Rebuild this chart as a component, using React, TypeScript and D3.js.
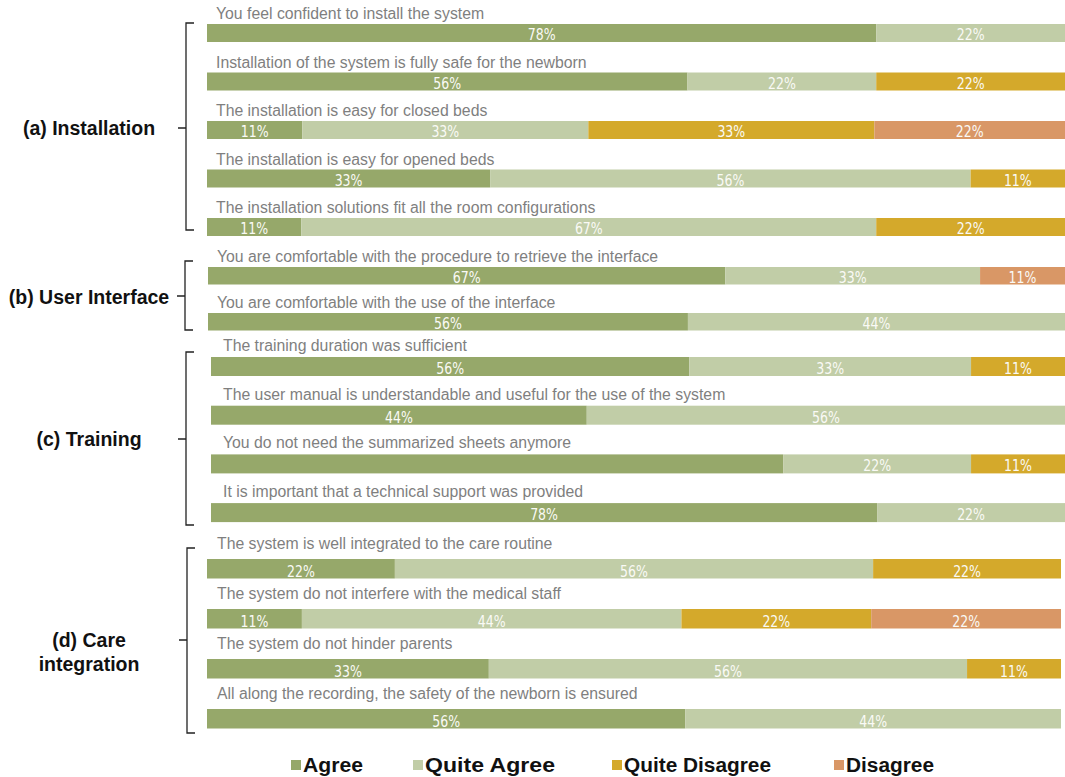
import React from 'react';
import * as d3 from 'd3';

// Survey statements, top to bottom
const questions = [
  'You feel confident to install the system',
  'Installation of the system is fully safe for the newborn',
  'The installation is easy for closed beds',
  'The installation is easy for opened beds',
  'The installation solutions fit all the room configurations',
  'You are comfortable with the procedure to retrieve the interface',
  'You are comfortable with the use of the interface',
  'The training duration was sufficient',
  'The user manual is understandable and useful for the use of the system',
  'You do not need the summarized sheets anymore',
  'It is important that a technical support was provided',
  'The system is well integrated to the care routine',
  'The system do not interfere with the medical staff',
  'The system do not hinder parents',
  'All along the recording, the safety of the newborn is ensured',
];
const questionGroup = [0, 0, 0, 0, 0, 1, 1, 2, 2, 2, 2, 3, 3, 3, 3];
const groupNames = [['(a) Installation'], ['(b) User Interface'], ['(c) Training'], ['(d) Care', 'integration']];

const seriesNames = ['Agree', 'Quite Agree', 'Quite Disagree', 'Disagree'];
const agree = [78, 56, 11, 33, 11, 67, 56, 56, 44, 67, 78, 22, 11, 33, 56];
const quiteAgree = [22, 22, 33, 56, 67, 33, 44, 33, 56, 22, 22, 56, 44, 56, 44];
const quiteDisagree = [0, 22, 33, 11, 22, 0, 0, 11, 0, 11, 0, 22, 22, 11, 0];
const disagree = [0, 0, 22, 0, 0, 11, 0, 0, 0, 0, 0, 0, 22, 0, 0];
// segments printed without a value in the original
const unlabeled = [[9, 0]];

const colors = ['#96a86a', '#c1cda7', '#d4a92b', '#d99766'];

// per-group layout (the original is a montage of slightly shifted pieces)
const groupLayout = [
  { top: 24, step: 48.5, h: 18, x0: 207, x1: 1065, textX: 216, gap: 5, brace: [186, 23, 230, 128], labelY: 135 },
  { top: 267, step: 46, h: 17.5, x0: 208, x1: 1065, textX: 217, gap: 5, brace: [185, 261, 330, 296], labelY: 304 },
  { top: 357, step: 48.7, h: 19, x0: 211, x1: 1065, textX: 223, gap: 6, brace: [186, 352, 525, 439], labelY: 446 },
  { top: 559, step: 50, h: 19.5, x0: 207, x1: 1061, textX: 217, gap: 10, brace: [187, 548, 733, 640], labelY: 647 },
];

const legendX = [291, 413, 612, 834];
const legendW = [60, 130, 147, 88];

export default function App() {
  const width = 1065;
  const height = 777;
  const series = [agree, quiteAgree, quiteDisagree, disagree];

  const rows = questions.map((q, i) => {
    const g = questionGroup[i];
    const L = groupLayout[g];
    const idx = questionGroup.slice(0, i).filter(v => v === g).length;
    const y = L.top + idx * L.step;
    const vals = series.map(s => s[i]);
    const total = d3.sum(vals);
    const x = d3.scaleLinear().domain([0, total]).range([L.x0, L.x1]);
    const cum = d3.cumsum(vals);
    const segs = vals.map((v, k) => ({ v, k, a: x(cum[k] - v), b: x(cum[k]) }));
    return { q, i, g, L, y, segs };
  });

  return (
    <svg width={width} height={height} style={{ position: 'absolute', left: 0, top: 0, background: '#fff' }}
      fontFamily="'Liberation Sans', Arial, sans-serif">
      {rows.map(r => (
        <g key={r.i}>
          <text x={r.L.textX} y={r.y - r.L.gap} fontSize={15.8} fill="#7f7f7f">{r.q}</text>
          {r.segs.filter(s => s.v > 0).map(s => (
            <rect key={s.k} x={s.a} y={r.y} width={s.b - s.a} height={r.L.h} fill={colors[s.k]} />
          ))}
          {r.segs.filter(s => s.v > 0 && !unlabeled.some(u => u[0] === r.i && u[1] === s.k)).map(s => (
            <text key={'t' + s.k} transform={`translate(${(s.a + s.b) / 2},${r.y + r.L.h - 2}) scale(0.76,1)`}
              textAnchor="middle"
              fontFamily="'DejaVu Sans', sans-serif"
              fontSize={16.5} fill="#fafaf6">{s.v}%</text>
          ))}
        </g>
      ))}
      {groupLayout.map((L, g) => {
        const [bx, by0, by1, bm] = L.brace;
        return (
          <g key={g}>
            <path d={`M${bx + 8},${by0}H${bx}V${by1}H${bx + 8}M${bx},${bm}H${bx - 8}`}
              fill="none" stroke="#222" strokeWidth={1.3} />
            {groupNames[g].map((t, j) => (
              <text key={j} x={89} y={L.labelY + j * 24} textAnchor="middle" fontSize={19.5}
                fontWeight="bold" fill="#111">{t}</text>
            ))}
          </g>
        );
      })}
      {seriesNames.map((n, k) => (
        <g key={n}>
          <rect x={legendX[k]} y={760} width={10} height={10} fill={colors[k]} />
          <text x={legendX[k] + 12} y={772} fontSize={19.5} fontWeight="bold"
            textLength={legendW[k]} lengthAdjust="spacingAndGlyphs" fill="#111">{n}</text>
        </g>
      ))}
    </svg>
  );
}
